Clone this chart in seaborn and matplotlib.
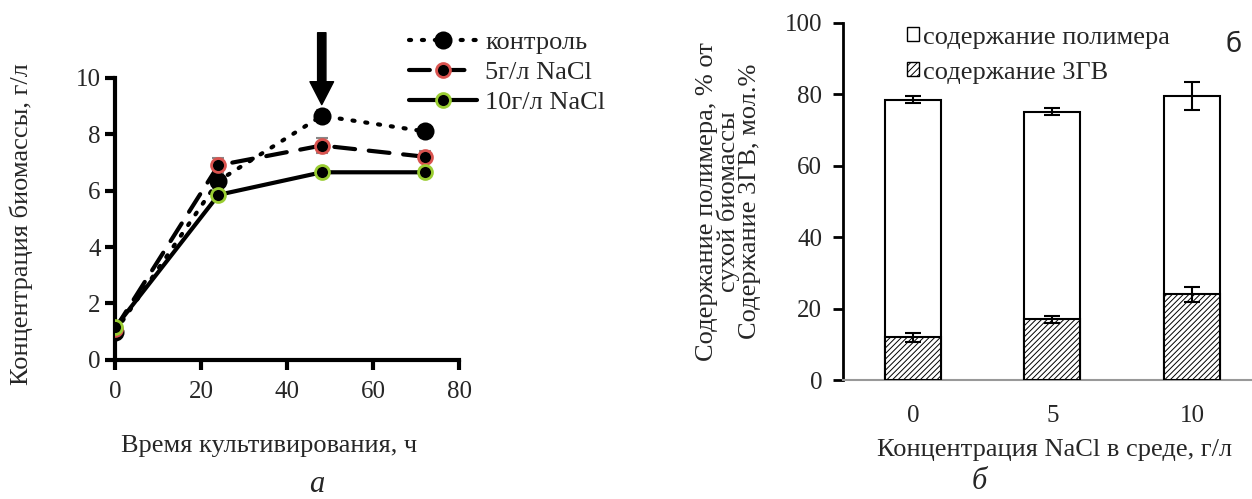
import numpy as np
import pandas as pd
import seaborn as sns
import matplotlib.pyplot as plt
from matplotlib.patches import Patch
from matplotlib.lines import Line2D

# (a) biomass vs time
time_h = [0, 24, 48, 72]
control = [1.0, 6.35, 8.65, 8.1]
control_err = [0.15, 0.25, 0.2, 0.2]
nacl5 = [1.1, 6.9, 7.6, 7.2]
nacl5_err = [0.15, 0.25, 0.25, 0.2]
nacl10 = [1.15, 5.85, 6.65, 6.65]
nacl10_err = [0.15, 0.15, 0.15, 0.15]
series_names = ["контроль", "5г/л NaCl", "10г/л NaCl"]

# (б) polymer content vs NaCl
nacl_levels = ["0", "5", "10"]
polymer = [78.5, 75.2, 79.5]
polymer_err = [1.0, 1.0, 4.0]
hv3 = [12.0, 17.0, 24.0]
hv3_err = [1.3, 1.0, 2.0]

sns.set_theme(style="white")
plt.rcParams['font.family'] = ['Liberation Serif', 'DejaVu Serif']
plt.rcParams['hatch.linewidth'] = 0.7

fig = plt.figure(figsize=(12.52, 4.99), dpi=100)
ax1 = fig.add_axes([0.092, 0.279, 0.275, 0.565])
ax2 = fig.add_axes([0.6733, 0.238, 0.3267, 0.716])

# ---- left panel
styles = [
    dict(ls=(0, (0.5, 2.6)), mfc="black", mec="black", ms=11, lw=3),
    dict(ls=(0, (5, 3.3)), mfc="black", mec="#d9534f", ms=10, lw=3),
    dict(ls="-", mfc="black", mec="#9acd32", ms=10, lw=3),
]
data_a = [control, nacl5, nacl10]
errs_a = [control_err, nacl5_err, nacl10_err]
for name, y, e, st in zip(series_names, data_a, errs_a, styles):
    ax1.errorbar(time_h, y, yerr=e, fmt="none", ecolor="#888888", elinewidth=1.5,
                 capsize=4.3, capthick=1.5, zorder=2)
    df = pd.DataFrame({"t": time_h, "v": y})
    sns.lineplot(data=df, x="t", y="v", ax=ax1, color="black", linestyle=st["ls"],
                 linewidth=st["lw"], marker="o", markersize=st["ms"],
                 markerfacecolor=st["mfc"], markeredgecolor=st["mec"],
                 markeredgewidth=2, dash_capstyle="round", zorder=3)

ax1.set_xlim(0, 80)
ax1.set_ylim(0, 10)
ax1.set_xticks([0, 20, 40, 60, 80])
ax1.set_yticks([0, 2, 4, 6, 8, 10])
for s in ["top", "right"]:
    ax1.spines[s].set_visible(False)
for s in ["left", "bottom"]:
    ax1.spines[s].set_linewidth(3)
    ax1.spines[s].set_color("black")
ax1.tick_params(axis="both", direction="out", length=7, width=3, labelsize=18,
                color="black", left=True, bottom=True)
ax1.tick_params(axis="x", pad=8)
ax1.set_xlabel("Время культивирования, ч", fontsize=19)
ax1.xaxis.label.set_va("center")
ax1.xaxis.set_label_coords(0.448, -0.307)
ax1.set_ylabel("Концентрация биомассы, г/л", fontsize=19)
ax1.yaxis.label.set_va("center")
ax1.yaxis.set_label_coords(-0.273, 0.48)

ax1.annotate("", xy=(48, 9.05), xytext=(48, 11.6),
             xycoords="data", annotation_clip=False,
             arrowprops=dict(facecolor="black", edgecolor="black", width=6,
                             headwidth=17, headlength=16.5))

handles = [Line2D([], [], color="black", linestyle=st["ls"], linewidth=st["lw"],
                  marker="o", markersize=st["ms"], markerfacecolor=st["mfc"],
                  markeredgecolor=st["mec"], markeredgewidth=2,
                  dash_capstyle="round")
           for st in styles]
ax1.legend(handles, series_names, loc="upper left", bbox_to_anchor=(0.852, 1.167),
           frameon=False, fontsize=19, handlelength=2.6, handletextpad=0.3,
           labelspacing=0.25, borderaxespad=0, borderpad=0)

# ---- right panel
df_b = pd.DataFrame({"nacl": nacl_levels, "polymer": polymer, "hv": hv3})
sns.barplot(data=df_b, x="nacl", y="polymer", ax=ax2, color="white",
            edgecolor="black", linewidth=1.5, width=0.4, errorbar=None, zorder=2)
sns.barplot(data=df_b, x="nacl", y="hv", ax=ax2, color="white",
            edgecolor="black", linewidth=1.5, width=0.4, errorbar=None,
            hatch="//////", zorder=3)
xpos = np.arange(len(nacl_levels))
ax2.errorbar(xpos, polymer, yerr=polymer_err, fmt="none", ecolor="black",
             elinewidth=1.5, capsize=6, capthick=1.5, zorder=4)
ax2.errorbar(xpos, hv3, yerr=hv3_err, fmt="none", ecolor="black",
             elinewidth=1.5, capsize=6, capthick=1.5, zorder=4)

ax2.set_xlim(-0.5, 2.43)
ax2.set_ylim(0, 100)
ax2.set_yticks([0, 20, 40, 60, 80, 100])
for s in ["top", "right"]:
    ax2.spines[s].set_visible(False)
ax2.spines["left"].set_color("black")
ax2.spines["left"].set_linewidth(2)
ax2.spines["bottom"].set_color("#999999")
ax2.spines["bottom"].set_linewidth(1.5)
ax2.tick_params(axis="y", direction="out", length=7, width=2, color="black",
                labelsize=18, left=True, pad=8)
ax2.tick_params(axis="x", length=0, labelsize=18, pad=18)
ax2.set_xlabel("Концентрация NaCl в среде, г/л", fontsize=19)
ax2.xaxis.label.set_va("center")
ax2.xaxis.set_label_coords(0.517, -0.196)
ax2.set_ylabel("Содержание полимера, % от\nсухой биомассы\nСодержание 3ГВ, мол.%",
               fontsize=19, linespacing=0.95)
ax2.yaxis.label.set_va("center")
ax2.yaxis.set_label_coords(-0.28, 0.5)

leg_handles = [Patch(facecolor="white", edgecolor="black", linewidth=1),
               Patch(facecolor="white", edgecolor="black", linewidth=1, hatch="/////")]
ax2.legend(leg_handles, ["содержание полимера", "содержание 3ГВ"],
           loc="upper left", bbox_to_anchor=(0.156, 0.99), frameon=False,
           fontsize=19, handlelength=0.45, handleheight=0.45, handletextpad=0.15,
           labelspacing=0.5, borderaxespad=0, borderpad=0)

fig.text(0.985, 0.91, "б", fontsize=19, family=["DejaVu Sans"], ha="center",
         va="center")

fig.text(0.253, 0.0, "а", fontsize=22, style="italic", ha="center", va="bottom")
fig.text(0.782, 0.006, "б", fontsize=22, style="italic", ha="center", va="bottom")

fig.savefig("out.png", dpi=100)
